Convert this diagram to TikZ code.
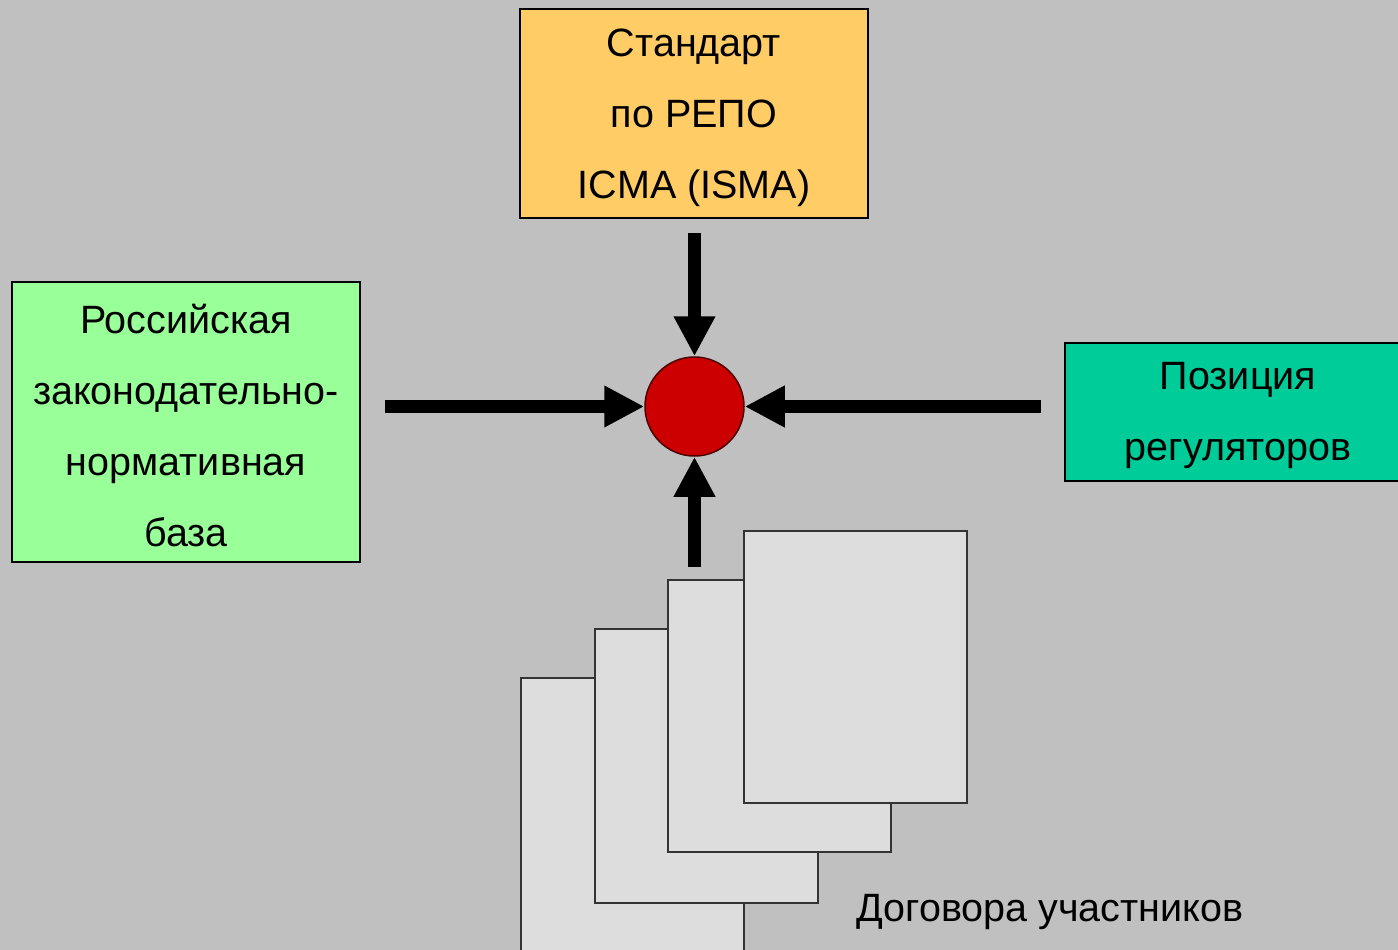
\documentclass[tikz,border=0pt]{standalone}
\usepackage{fontspec}
\setmainfont{Liberation Sans}
\usetikzlibrary{arrows.meta}
\definecolor{bggray}{HTML}{C0C0C0}
\definecolor{stdorange}{HTML}{FFCC66}
\definecolor{rusgreen}{HTML}{99FF99}
\definecolor{regteal}{HTML}{00CC99}
\definecolor{hubred}{HTML}{CC0000}
\definecolor{pagegray}{HTML}{DDDDDD}
\definecolor{pageline}{HTML}{333333}
\newcommand{\boxtext}[1]{\raisebox{-4pt}[\height][\depth]{\parbox{340pt}{\centering #1}}}
\tikzset{
  box/.style={draw=black, line width=2.5pt, align=center, inner sep=0pt,
    font=\fontsize{39.5}{71}\selectfont},
  bigarrow/.style={line width=13pt, -{Triangle[width=39pt,length=40pt]}},
  page/.style={fill=pagegray, draw=pageline, line width=2pt},
}
\begin{document}
\begin{tikzpicture}[x=1pt,y=-1pt]
\useasboundingbox (0,0) rectangle (1398,950);
\clip (0,0) rectangle (1398,950);
\fill[bggray] (0,0) rectangle (1398,950);

% boxes
\node[box, fill=stdorange, minimum width=348pt, minimum height=209pt] (std) at (694,113.5)
  {\boxtext{Стандарт\\по РЕПО\\ICMA (ISMA)}};
\node[box, fill=rusgreen, minimum width=348pt, minimum height=280pt] (rus) at (186,422)
  {\boxtext{Российская\\законодательно-\\нормативная\\база}};
\node[box, fill=regteal, minimum width=346pt, minimum height=138pt] (reg) at (1238,412)
  {\boxtext{Позиция\\регуляторов}};

% hub
\node[circle, fill=hubred, draw=black!70!red, line width=1.5pt, minimum size=99pt, inner sep=0pt] (hub) at (694.5,406.5) {};

% pages
\filldraw[page] (521,678) rectangle (744,960);
\filldraw[page] (595,629) rectangle (818,903);
\filldraw[page] (668,580) rectangle (891,852);
\filldraw[page] (744,531) rectangle (967,803);
\node[font=\fontsize{39.5}{44}\selectfont, anchor=center] (lbl) at (1050,912) {Договора участников};

% arrow tails
\coordinate (ttop) at (694.5,233);
\coordinate (tleft) at (385,406.5);
\coordinate (tright) at (1041,406.5);
\coordinate (tbot) at (694.5,567);

\draw[bigarrow] (ttop) -- (hub.north);
\draw[bigarrow] (tleft) -- (hub.west);
\draw[bigarrow] (tright) -- (hub.east);
\draw[bigarrow] (tbot) -- (hub.south);
\end{tikzpicture}
\end{document}
